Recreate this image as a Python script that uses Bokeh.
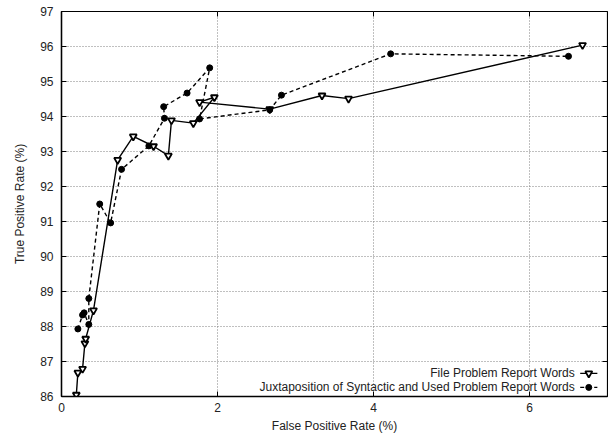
import math
from bokeh.plotting import figure
from bokeh.models import Range1d, FixedTicker, Label
from bokeh.embed import file_html
from bokeh.resources import INLINE

# Series 1: File Problem Report Words
fp_file = [0.19, 0.21, 0.27, 0.30, 0.31, 0.41, 0.72, 0.92, 1.18, 1.37, 1.41, 1.69, 1.96, 1.77, 2.67, 3.34, 3.68, 6.68]
tp_file = [86.05, 86.68, 86.79, 87.52, 87.65, 88.46, 92.76, 93.43, 93.15, 92.88, 93.89, 93.81, 94.55, 94.41, 94.21, 94.60, 94.51, 96.04]

# Series 2: Juxtaposition of Syntactic and Used Problem Report Words
fp_jux = [0.21, 0.27, 0.29, 0.35, 0.35, 0.49, 0.63, 0.77, 1.12, 1.32, 1.31, 1.61, 1.90, 1.77, 2.67, 2.82, 4.22, 6.50]
tp_jux = [87.93, 88.33, 88.39, 88.06, 88.80, 91.50, 90.96, 92.49, 93.16, 93.95, 94.28, 94.67, 95.39, 93.93, 94.19, 94.61, 95.79, 95.72]

x_ticks = [0, 2, 4, 6]
y_ticks = list(range(86, 98))
series_names = ["File Problem Report Words",
                "Juxtaposition of Syntactic and Used Problem Report Words"]
x_title = "False Positive Rate (%)"
y_title = "True Positive Rate (%)"

FONT = "Liberation Sans"
FS = "12px"
X0, X1, Y0, Y1 = 0, 7, 86, 97

p = figure(width=608, height=436, x_range=Range1d(X0, X1), y_range=Range1d(Y0, Y1),
           output_backend="svg", toolbar_location=None,
           min_border_left=61, min_border_right=1, min_border_top=11, min_border_bottom=40)
p.background_fill_color = "white"
p.border_fill_color = "white"
p.outline_line_color = "black"
p.outline_line_width = 1.2

# grid
p.xgrid.ticker = FixedTicker(ticks=[t for t in x_ticks if t != 0])
p.ygrid.ticker = FixedTicker(ticks=y_ticks[1:-1])
for g in (p.xgrid, p.ygrid):
    g.grid_line_color = "#808080"
    g.grid_line_dash = "1 2"
    g.grid_line_width = 1

# main axes
xa = p.xaxis[0]
ya = p.yaxis[0]
xa.ticker = FixedTicker(ticks=x_ticks)
ya.ticker = FixedTicker(ticks=y_ticks)
for a in (xa, ya):
    a.axis_line_color = "black"
    a.axis_line_width = 1.4
    a.major_tick_in = 5
    a.major_tick_out = 0
    a.minor_tick_in = 0
    a.minor_tick_out = 0
    a.major_tick_line_color = "black"
    a.major_label_text_font = FONT
    a.major_label_text_font_size = FS
    a.major_label_text_color = "#222222"
    a.axis_label_text_font = FONT
    a.axis_label_text_font_size = FS
    a.axis_label_text_font_style = "normal"
    a.axis_label_text_color = "#222222"
xa.axis_label = x_title
ya.axis_label = y_title
xa.major_label_standoff = 6
xa.axis_label_standoff = 4
ya.major_label_standoff = 8
ya.axis_label_standoff = 10

# mirror ticks on right and top borders (inward, 5 px)
p.ray(x=[X1] * len(y_ticks), y=y_ticks, length=5, length_units="screen",
      angle=math.pi, line_color="black", line_width=1)
p.ray(x=x_ticks, y=[Y1] * len(x_ticks), length=5, length_units="screen",
      angle=-math.pi / 2, line_color="black", line_width=1)

# series
p.line(fp_file, tp_file, line_color="black", line_width=1.4)
p.scatter(fp_file, tp_file, marker="inverted_triangle", size=7,
          fill_color="white", line_color="black", line_width=1.8)
p.line(fp_jux, tp_jux, line_color="black", line_width=1.4, line_dash="4 3")
p.scatter(fp_jux, tp_jux, marker="circle", size=6,
          fill_color="black", line_color="black")

# legend (gnuplot style: text right-aligned, sample on the right)
leg_text_x = 6.58
leg_ys = [86.66, 86.26]
leg_x0, leg_x1, leg_xm = 6.65, 6.87, 6.76
for name, ly in zip(series_names, leg_ys):
    p.add_layout(Label(x=leg_text_x, y=ly, text=name, text_align="right",
                       text_baseline="middle", text_font=FONT, text_font_size=FS,
                       text_color="#222222"))
p.line([leg_x0, leg_x1], [leg_ys[0], leg_ys[0]], line_color="black", line_width=1.4)
p.scatter([leg_xm], [leg_ys[0]], marker="inverted_triangle", size=7,
          fill_color="white", line_color="black", line_width=1.8)
p.line([leg_x0, leg_x1], [leg_ys[1], leg_ys[1]], line_color="black", line_width=1.4,
       line_dash="4 3")
p.scatter([leg_xm], [leg_ys[1]], marker="circle", size=6,
          fill_color="black", line_color="black")

open("out.html", "w").write(file_html(p, INLINE))
